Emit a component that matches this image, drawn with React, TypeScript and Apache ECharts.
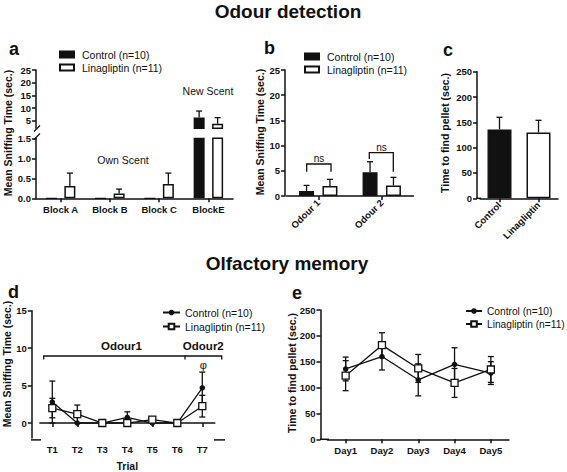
import React, { useEffect, useRef } from 'react';
import * as echarts from 'echarts';

// ---------- data ----------
const blockCats = ['Block A', 'Block B', 'Block C', 'BlockE'];
const blockControl = [0, 0, 0, 6.3];
const blockControlErr = [0, 0, 0, 2.5];
const blockLina = [0.31, 0.12, 0.36, 3.8];
const blockLinaErr = [0.32, 0.11, 0.27, 2.4];

const odourCats = ['Odour 1', 'Odour 2'];
const odourControl = [1.0, 4.7];
const odourControlErr = [1.1, 2.1];
const odourLina = [2.0, 2.1];
const odourLinaErr = [1.3, 1.6];

const pelletCats = ['Control', 'Linagliptin'];
const pelletValues = [136, 130];
const pelletErr = [24, 24];

const trialCats = ['T1', 'T2', 'T3', 'T4', 'T5', 'T6', 'T7'];
const trialControl = [2.8, 0, 0, 0.75, 0, 0, 4.7];
const trialControlErr = [2.8, 0, 0, 0.75, 0, 0, 2.1];
const trialLina = [2.0, 1.2, 0, 0, 0.45, 0, 2.25];
const trialLinaErr = [1.3, 1.2, 0, 0, 0.2, 0, 1.45];

const dayCats = ['Day1', 'Day2', 'Day3', 'Day4', 'Day5'];
const dayControl = [136, 160, 115, 145, 128];
const dayControlErr = [23, 26, 31, 32, 22];
const dayLina = [123, 182, 137, 109, 135];
const dayLinaErr = [29, 24, 27, 28, 25];

const CONTROL = 'Control (n=10)';
const LINA = 'Linagliptin (n=11)';
const CONTROL_L = 'Control (n=10) ';
const LINA_L = 'Linagliptin (n=11) ';

// ---------- styles ----------
const FONT = '"Liberation Sans", Arial, Helvetica, sans-serif';
const INK = '#111';
const A_UP_MIN = 2;
const A_LOW_MAX = 1.5;

const axisLine = { show: true, lineStyle: { color: INK, width: 1.5 } };
const axisTick = { show: true, length: 4, lineStyle: { color: INK, width: 1.5 } };
const tickFont = { color: INK, fontSize: 9.5, fontWeight: 'bold' as const, fontFamily: FONT };

function errRender(offset: number, cap: number, both: boolean, test?: (v: number, e: number) => boolean) {
  return (_p: any, api: any) => {
    const i = api.value(0);
    const v = api.value(1);
    const e = api.value(2);
    if (!(e > 0) || (test && !test(v, e))) return null;
    const p0 = api.coord([i, both ? v - e : v]);
    const p1 = api.coord([i, v + e]);
    const x = p0[0] + offset;
    const style = { stroke: INK, lineWidth: 1.3 };
    const children: any[] = [
      { type: 'line', shape: { x1: x, y1: p0[1], x2: x, y2: p1[1] }, style },
      { type: 'line', shape: { x1: x - cap / 2, y1: p1[1], x2: x + cap / 2, y2: p1[1] }, style },
    ];
    if (both) children.push({ type: 'line', shape: { x1: x - cap / 2, y1: p0[1], x2: x + cap / 2, y2: p0[1] }, style });
    return { type: 'group', children };
  };
}

const errData = (vals: number[], errs: number[]) => vals.map((v, i) => [i, v, errs[i]]);

const blackBar = { color: INK, borderColor: INK, borderWidth: 1.3 };
const whiteBar = { color: '#fff', borderColor: INK, borderWidth: 1.5 };

function catX(gridIndex: number, data: string[], extra: any = {}) {
  return {
    type: 'category', gridIndex, data,
    axisLine, axisTick: { ...axisTick, alignWithLabel: true },
    axisLabel: { ...tickFont, margin: 6, ...(extra.axisLabel || {}) },
    ...(extra.rest || {}),
  };
}

function valY(gridIndex: number, min: number, max: number, extra: any = {}) {
  return {
    type: 'value', gridIndex, min, max,
    splitLine: { show: false },
    axisLine,
    axisTick: { ...axisTick, ...(extra.axisTick || {}) },
    axisLabel: { ...tickFont, margin: 5, ...(extra.axisLabel || {}) },
    ...(extra.rest || {}),
  };
}

function txt(text: string, x: number, y: number, size: number, bold = false, rotation = 0, align = 'center') {
  return {
    type: 'text', x, y, rotation,
    style: { text, fontSize: size, fontWeight: bold ? 'bold' : 'normal', fontFamily: FONT, fill: INK, align, verticalAlign: 'middle' },
  };
}
function poly(points: number[][]) {
  return { type: 'polyline', shape: { points }, style: { stroke: INK, lineWidth: 1.3, fill: 'none' } };
}
function seg(x1: number, y1: number, x2: number, y2: number, w = 1.5) {
  return { type: 'line', shape: { x1, y1, x2, y2 }, style: { stroke: INK, lineWidth: w } };
}

const option: any = {
  animation: false,
  backgroundColor: '#fff',
  textStyle: { fontFamily: FONT },
  grid: [
    { left: 36, top: 70, width: 197, height: 58.3 },       // a upper
    { left: 36, top: 138.3, width: 197, height: 60 },      // a lower
    { left: 286.5, top: 70, width: 127, height: 126 },     // b
    { left: 480, top: 71.7, width: 78, height: 126.6 },    // c
    { left: 39.8, top: 310.7, width: 175, height: 129.2 }, // d
    { left: 327.5, top: 310, width: 181.5, height: 129.3 },// e
  ],
  xAxis: [
    { type: 'category', gridIndex: 0, data: blockCats, show: false },
    catX(1, blockCats),
    catX(2, odourCats, { axisLabel: { rotate: 45, margin: 5 } }),
    catX(3, pelletCats, { axisLabel: { rotate: 45, margin: 5 } }),
    catX(4, trialCats, {
      rest: { name: 'Trial', nameLocation: 'middle', nameGap: 22, nameTextStyle: { ...tickFont, fontSize: 10.5 } },
    }),
    catX(5, dayCats),
  ],
  yAxis: [
    valY(0, A_UP_MIN, 25, { axisLabel: { customValues: [5, 10, 15, 20, 25] }, axisTick: { customValues: [5, 10, 15, 20, 25] } }),
    valY(1, 0, A_LOW_MAX, { rest: { interval: 0.5 }, axisLabel: { formatter: (v: number) => v.toFixed(1) } }),
    valY(2, 0, 25, { rest: { interval: 5, offset: 1.5 } }),
    valY(3, 0, 250, { rest: { interval: 50, offset: 3 } }),
    valY(4, -2, 15, { rest: { offset: 8 }, axisLabel: { customValues: [0, 5, 10, 15] }, axisTick: { customValues: [0, 5, 10, 15] } }),
    valY(5, 0, 250, { rest: { interval: 50, offset: 7 } }),
  ],
  legend: [
    {
      data: [CONTROL, LINA], orient: 'vertical', left: 54, top: 44, itemWidth: 14, itemHeight: 6, itemGap: 2,
      icon: 'rect', selectedMode: false,
      textStyle: { fontSize: 10.5, color: INK, fontFamily: FONT, padding: [0, 0, 0, 3] },
    },
    {
      data: [CONTROL, LINA], orient: 'vertical', left: 299, top: 46, itemWidth: 14, itemHeight: 6, itemGap: 2,
      icon: 'rect', selectedMode: false,
      textStyle: { fontSize: 10.5, color: INK, fontFamily: FONT, padding: [0, 0, 0, 3] },
    },
    {
      data: [CONTROL_L, LINA_L], orient: 'vertical', left: 157, top: 302, itemWidth: 17, itemHeight: 7, itemGap: 3,
      selectedMode: false, formatter: (n: string) => n.trim(),
      textStyle: { fontSize: 10.5, color: INK, fontFamily: FONT },
    },
    {
      data: [CONTROL_L, LINA_L], orient: 'vertical', left: 460, top: 301, itemWidth: 16, itemHeight: 7, itemGap: 3,
      selectedMode: false, formatter: (n: string) => n.trim(),
      textStyle: { fontSize: 10.2, color: INK, fontFamily: FONT },
    },
  ],
  series: [
    // ---- a upper ----
    { type: 'bar', name: CONTROL, xAxisIndex: 0, yAxisIndex: 0, barWidth: 11, barGap: '68%',
      data: blockControl.map((v) => (v >= A_UP_MIN ? v : '-')), itemStyle: blackBar },
    { type: 'bar', name: LINA, xAxisIndex: 0, yAxisIndex: 0, barWidth: 11, barGap: '68%',
      data: blockLina.map((v) => (v >= A_UP_MIN ? v : '-')), itemStyle: whiteBar },
    // ---- a lower ----
    { type: 'bar', name: CONTROL, xAxisIndex: 1, yAxisIndex: 1, barWidth: 11, barGap: '68%', clip: true,
      data: blockControl, itemStyle: blackBar },
    { type: 'bar', name: LINA, xAxisIndex: 1, yAxisIndex: 1, barWidth: 11, barGap: '68%', clip: true,
      data: blockLina, itemStyle: whiteBar },
    { type: 'custom', xAxisIndex: 0, yAxisIndex: 0, z: 3, encode: { x: 0, y: 1 },
      renderItem: errRender(-9.25, 6, false, (v) => v >= A_UP_MIN), data: errData(blockControl, blockControlErr) },
    { type: 'custom', xAxisIndex: 0, yAxisIndex: 0, z: 3, encode: { x: 0, y: 1 },
      renderItem: errRender(9.25, 6, false, (v) => v >= A_UP_MIN), data: errData(blockLina, blockLinaErr) },
    { type: 'custom', xAxisIndex: 1, yAxisIndex: 1, z: 3, encode: { x: 0, y: 1 },
      renderItem: errRender(-9.25, 6, false, (v, e) => v + e <= A_LOW_MAX), data: errData(blockControl, blockControlErr) },
    { type: 'custom', xAxisIndex: 1, yAxisIndex: 1, z: 3, encode: { x: 0, y: 1 },
      renderItem: errRender(9.25, 6, false, (v, e) => v + e <= A_LOW_MAX), data: errData(blockLina, blockLinaErr) },
    // ---- b ----
    { type: 'bar', name: CONTROL, xAxisIndex: 2, yAxisIndex: 2, barWidth: 15, barGap: '56%', data: odourControl, itemStyle: blackBar },
    { type: 'bar', name: LINA, xAxisIndex: 2, yAxisIndex: 2, barWidth: 15, barGap: '56%', data: odourLina, itemStyle: whiteBar },
    { type: 'custom', xAxisIndex: 2, yAxisIndex: 2, z: 3, encode: { x: 0, y: 1 },
      renderItem: errRender(-11.7, 6, false), data: errData(odourControl, odourControlErr) },
    { type: 'custom', xAxisIndex: 2, yAxisIndex: 2, z: 3, encode: { x: 0, y: 1 },
      renderItem: errRender(11.7, 6, false), data: errData(odourLina, odourLinaErr) },
    // ---- c ----
    { type: 'bar', xAxisIndex: 3, yAxisIndex: 3, barWidth: 24,
      data: pelletValues.map((v, i) => ({ value: v, itemStyle: i === 0 ? blackBar : whiteBar })) },
    { type: 'custom', xAxisIndex: 3, yAxisIndex: 3, z: 3, encode: { x: 0, y: 1 },
      renderItem: errRender(0, 6, false), data: errData(pelletValues, pelletErr) },
    // ---- d ----
    { type: 'custom', xAxisIndex: 4, yAxisIndex: 4, z: 1, encode: { x: 0, y: 1 },
      renderItem: errRender(0, 6, true), data: errData(trialControl, trialControlErr) },
    { type: 'custom', xAxisIndex: 4, yAxisIndex: 4, z: 1, encode: { x: 0, y: 1 },
      renderItem: errRender(0, 6, true), data: errData(trialLina, trialLinaErr) },
    { type: 'line', name: CONTROL_L, xAxisIndex: 4, yAxisIndex: 4, data: trialControl, z: 3,
      symbol: 'circle', symbolSize: 5.5, lineStyle: { color: INK, width: 1.3 }, itemStyle: { color: INK } },
    { type: 'line', name: LINA_L, xAxisIndex: 4, yAxisIndex: 4, data: trialLina, z: 4,
      symbol: 'rect', symbolSize: 7, lineStyle: { color: INK, width: 1.3 },
      itemStyle: { color: '#fff', borderColor: INK, borderWidth: 1.3 } },
    // ---- e ----
    { type: 'custom', xAxisIndex: 5, yAxisIndex: 5, z: 1, encode: { x: 0, y: 1 },
      renderItem: errRender(0, 6, true), data: errData(dayControl, dayControlErr) },
    { type: 'custom', xAxisIndex: 5, yAxisIndex: 5, z: 1, encode: { x: 0, y: 1 },
      renderItem: errRender(0, 6, true), data: errData(dayLina, dayLinaErr) },
    { type: 'line', name: CONTROL_L, xAxisIndex: 5, yAxisIndex: 5, data: dayControl, z: 3,
      symbol: 'circle', symbolSize: 5.5, lineStyle: { color: INK, width: 1.3 }, itemStyle: { color: INK } },
    { type: 'line', name: LINA_L, xAxisIndex: 5, yAxisIndex: 5, data: dayLina, z: 4,
      symbol: 'rect', symbolSize: 7, lineStyle: { color: INK, width: 1.3 },
      itemStyle: { color: '#fff', borderColor: INK, borderWidth: 1.3 } },
  ],
  graphic: [
    txt('Odour detection', 288, 11, 19, true),
    txt('Olfactory memory', 287, 263, 19, true),
    txt('a', 9, 49, 18, true, 0, 'left'),
    txt('b', 264, 48, 18, true, 0, 'left'),
    txt('c', 443, 50, 18, true, 0, 'left'),
    txt('d', 8, 292, 18, true, 0, 'left'),
    txt('e', 292, 293, 18, true, 0, 'left'),
    txt('Mean Sniffing Time (sec.)', 8, 133, 10.5, true, Math.PI / 2),
    txt('Mean Sniffing Time (sec.)', 260, 132, 10.5, true, Math.PI / 2),
    txt('Time to find pellet (sec.)', 445, 133, 10.5, true, Math.PI / 2),
    txt('Mean Sniffing Time (sec.)', 7, 364, 10.5, true, Math.PI / 2),
    txt('Time to find pellet (sec.)', 292, 373, 10.5, true, Math.PI / 2),
    txt('Own Scent', 123, 160, 10.5),
    txt('New Scent', 208, 91, 10.5),
    // axis break marks (panel a)
    seg(34, 131.5, 40, 125.5, 1.3),
    seg(34, 139.5, 40, 133.5, 1.3),
    // ns brackets (panel b)
    poly([[306.7, 171.7], [306.7, 164], [331, 164], [331, 171.7]]),
    txt('ns', 319, 158, 10),
    poly([[369.3, 159], [369.3, 152.7], [393.3, 152.7], [393.3, 171.7]]),
    txt('ns', 381.5, 147, 10),
    // odour brackets (panel d)
    poly([[43.7, 359.5], [43.7, 356], [185, 356], [185, 359.5]]),
    poly([[185, 356], [221.7, 356], [221.7, 359.5]]),
    txt('Odour1', 121.5, 346, 11.5, true),
    txt('Odour2', 203.3, 346, 11.5, true),
    txt('φ', 203.3, 365, 11),
    // axis line joins
    seg(476.5, 198.3, 481, 198.3),
    seg(31, 439.9, 41, 439.9),
    seg(214, 439.9, 225, 439.9),
    seg(320, 439.3, 329, 439.3),
  ],
};

export default function App() {
  const ref = useRef<HTMLDivElement>(null);
  useEffect(() => {
    document.body.style.margin = '0';
    const chart = echarts.init(ref.current as HTMLDivElement, undefined, { renderer: 'svg' });
    chart.setOption(option);
    return () => chart.dispose();
  }, []);
  return <div ref={ref} style={{ width: 567, height: 472, background: '#fff' }} />;
}
